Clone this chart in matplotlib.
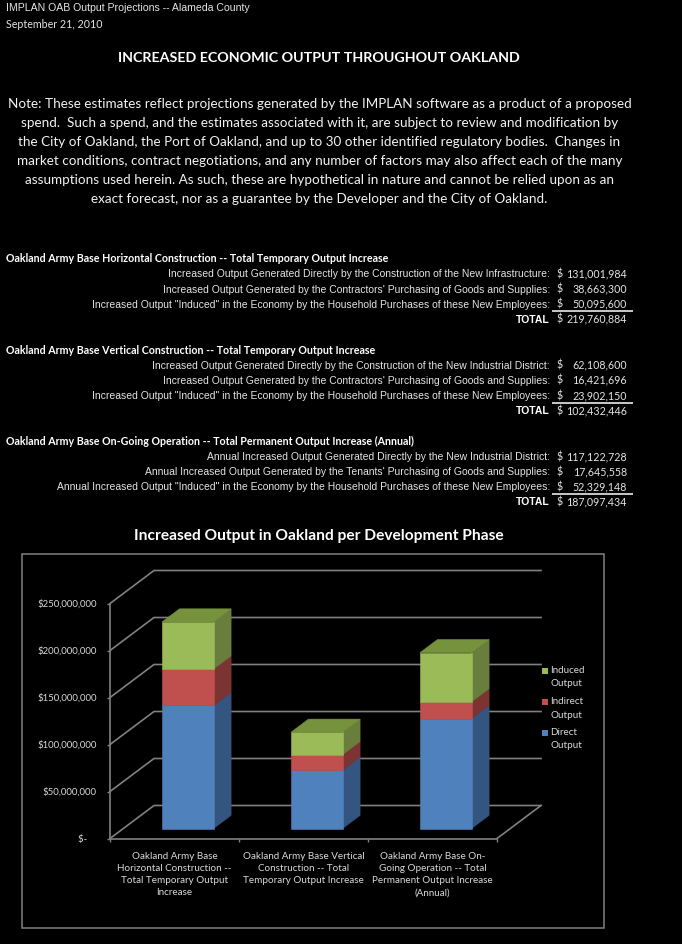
import matplotlib
matplotlib.use("Agg")
import matplotlib.pyplot as plt
from matplotlib.patches import Rectangle
from matplotlib.ticker import FuncFormatter, FixedLocator

W, H = 682, 944
SANS = "Lato"
ARIAL = "Liberation Sans"

header_line = "IMPLAN OAB Output Projections -- Alameda County"
date_line = "September 21, 2010"
page_title = "INCREASED ECONOMIC OUTPUT THROUGHOUT OAKLAND"
note_lines = [
    "Note: These estimates reflect projections generated by the IMPLAN software as a product of a proposed",
    "spend.  Such a spend, and the estimates associated with it, are subject to review and modification by",
    "the City of Oakland, the Port of Oakland, and up to 30 other identified regulatory bodies.  Changes in",
    "market conditions, contract negotiations, and any number of factors may also affect each of the many",
    "assumptions used herein. As such, these are hypothetical in nature and cannot be relied upon as an",
    "exact forecast, nor as a guarantee by the Developer and the City of Oakland.",
]
section_titles = [
    "Oakland Army Base Horizontal Construction -- Total Temporary Output Increase",
    "Oakland Army Base Vertical Construction -- Total Temporary Output Increase",
    "Oakland Army Base On-Going Operation -- Total Permanent Output Increase (Annual)",
]
section_rows = [
    ["Increased Output Generated Directly by the Construction of the New Infrastructure:",
     "Increased Output Generated by the Contractors' Purchasing of Goods and Supplies:",
     "Increased Output \"Induced\" in the Economy by the Household Purchases of these New Employees:"],
    ["Increased Output Generated Directly by the Construction of the New Industrial District:",
     "Increased Output Generated by the Contractors' Purchasing of Goods and Supplies:",
     "Increased Output \"Induced\" in the Economy by the Household Purchases of these New Employees:"],
    ["Annual Increased Output Generated Directly by the New Industrial District:",
     "Annual Increased Output Generated by the Tenants' Purchasing of Goods and Supplies:",
     "Annual Increased Output \"Induced\" in the Economy by the Household Purchases of these New Employees:"],
]
chart_title = "Increased Output in Oakland per Development Phase"
categories = [
    "Oakland Army Base\nHorizontal Construction --\nTotal Temporary Output\nIncrease",
    "Oakland Army Base Vertical\nConstruction -- Total\nTemporary Output Increase",
    "Oakland Army Base On-\nGoing Operation -- Total\nPermanent Output Increase\n(Annual)",
]
direct_output = [131001984, 62108600, 117122728]
indirect_output = [38663300, 16421696, 17645558]
induced_output = [50095600, 23902150, 52329148]
totals = [219760884, 102432446, 187097434]
series_names = ["Direct\nOutput", "Indirect\nOutput", "Induced\nOutput"]
y_ticks = [0, 50000000, 100000000, 150000000, 200000000, 250000000]

BLUE = ("#4F81BD", "#33557F")
RED = ("#C0504D", "#7C3432")
GREEN = ("#9BBB59", "#697E3C", "#76923C")
GRID = "#808080"
TXT = "#e4e4e4"

fig = plt.figure(figsize=(W / 100, H / 100), dpi=100, facecolor="black")
page = fig.add_axes([0, 0, 1, 1])
page.set_xlim(0, W)
page.set_ylim(H, 0)
page.axis("off")
renderer = fig.canvas.get_renderer()


def fit(text, family, weight, width):
    t = page.text(0, 0, text, family=family, weight=weight, fontsize=10)
    w = t.get_window_extent(renderer).width
    t.remove()
    return 10 * width / w


s_header = fit(header_line, ARIAL, "normal", 243)
s_date = fit(date_line, SANS, "normal", 95.5)
s_title = fit(page_title, SANS, "bold", 403)
s_note = fit(note_lines[0], SANS, "normal", 623)
s_section = fit(section_titles[0], SANS, "bold", 384)
s_row = fit(section_rows[0][2], ARIAL, "normal", 459)
s_value = fit("131,001,984", SANS, "normal", 60)
s_ctitle = fit(chart_title, SANS, "bold", 370)
s_tick = fit("$250,000,000", SANS, "normal", 60)
s_cat = fit("Horizontal Construction --", SANS, "normal", 115)
s_leg = fit("Induced", SANS, "normal", 35)

page.text(6, 8, header_line, family=ARIAL, fontsize=s_header, color=TXT, va="center")
page.text(6, 24, date_line, family=SANS, fontsize=s_date, color=TXT, va="center")
page.text(318.5, 57.5, page_title, family=SANS, weight="bold", fontsize=s_title, color="white",
          ha="center", va="center")
note_y = [104, 123, 142, 161, 180, 199]
for y, line in zip(note_y, note_lines):
    page.text(319.5, y, line, family=SANS, fontsize=s_note, color="#f2f2f2", ha="center", va="center")

sec_y = [[258.5, 274, 289.5, 304.5, 319.5],
         [350, 365.5, 380.5, 396, 411],
         [441.5, 457, 472, 487, 502]]
rule_y = [311, 402.7, 494]
BASE = 3.2
for k in range(3):
    ys = sec_y[k]
    page.text(6, ys[0], section_titles[k], family=SANS, weight="bold", fontsize=s_section,
              color="white", va="center")
    vals = [direct_output[k], indirect_output[k], induced_output[k]]
    for y, label, v in zip(ys[1:4], section_rows[k], vals):
        page.text(550, y + BASE, label, family=ARIAL, fontsize=s_row, color=TXT, ha="right", va="baseline")
        page.text(560, y + BASE, "$", family=SANS, fontsize=s_value, color=TXT, ha="center", va="baseline")
        page.text(627, y + BASE, f"{v:,}", family=SANS, fontsize=s_value, color=TXT, ha="right", va="baseline")
    page.text(550, ys[4] + BASE, "TOTAL", family=ARIAL, weight="bold", fontsize=s_row, color="white",
              ha="right", va="baseline")
    page.text(560, ys[4] + BASE, "$", family=SANS, fontsize=s_value, color=TXT, ha="center", va="baseline")
    page.text(627, ys[4] + BASE, f"{totals[k]:,}", family=SANS, fontsize=s_value, color=TXT, ha="right", va="baseline")
    page.plot([552, 633], [rule_y[k]] * 2, color="white", lw=1.1, solid_capstyle="butt")

page.text(319, 536, chart_title, family=SANS, weight="bold", fontsize=s_ctitle, color="white",
          ha="center", va="center")
page.add_patch(Rectangle((22, 554), 581.5, 374, fill=False, ec=GRID, lw=1.1))

# ---- pseudo-3D column chart on real data axes ----
AX_L, AX_R, AX_T, AX_B = 110, 497, 603.5, 838.5
ax = fig.add_axes([AX_L / W, 1 - AX_B / H, (AX_R - AX_L) / W, (AX_B - AX_T) / H])
ax.patch.set_alpha(0)
ax.set_xlim(-0.5, 2.5)
ax.set_ylim(0, 250000000)

DX = 44 * 3 / (AX_R - AX_L)               # depth shift in category units
DY = 33 * 250000000 / (AX_B - AX_T)       # depth shift in value units


def proj(x, v, d):
    return x + d * DX, v + d * DY


x_left, x_right = -0.5, 2.5
for v in y_ticks:
    a = proj(x_left, v, 0)
    b = proj(x_left, v, 1)
    c = proj(x_right, v, 1)
    ax.plot([a[0], b[0], c[0]], [a[1], b[1], c[1]], color=GRID, lw=1.2, clip_on=False, zorder=1,
            solid_joinstyle="miter")
a, b = proj(x_right, 0, 0), proj(x_right, 0, 1)
ax.plot([a[0], b[0]], [a[1], b[1]], color=GRID, lw=1.2, clip_on=False, zorder=1)

BAR_W = 0.4
D0, D1 = 0.3, 0.7


def poly(points, color, z):
    ax.fill([p[0] for p in points], [p[1] for p in points], color=color, lw=0.4, clip_on=False, zorder=z)


for i in range(3):
    x0, x1 = i - BAR_W / 2, i + BAR_W / 2
    bottom = 0
    stack = [(direct_output[i], BLUE), (indirect_output[i], RED), (induced_output[i], GREEN)]
    z = 3 + i
    for val, col in stack:
        top = bottom + val
        poly([proj(x1, bottom, D0), proj(x1, bottom, D1), proj(x1, top, D1), proj(x1, top, D0)], col[1], z)
        poly([proj(x0, bottom, D0), proj(x1, bottom, D0), proj(x1, top, D0), proj(x0, top, D0)], col[0], z)
        bottom = top
    poly([proj(x0, bottom, D0), proj(x1, bottom, D0), proj(x1, bottom, D1), proj(x0, bottom, D1)], GREEN[2], z)

for sp in ("top", "right"):
    ax.spines[sp].set_visible(False)
for sp in ("left", "bottom"):
    ax.spines[sp].set_color(GRID)
    ax.spines[sp].set_linewidth(1.2)

ax.yaxis.set_major_locator(FixedLocator(y_ticks))
ax.yaxis.set_major_formatter(FuncFormatter(lambda v, _: "$-    " if v == 0 else f"${v:,.0f}"))
ax.tick_params(axis="y", colors=GRID, length=2.5, width=1.0, pad=7, labelcolor="#d9d9d9",
               labelsize=s_tick)
ax.set_xticks([0, 1, 2])
ax.set_xticklabels(categories, family=SANS, fontsize=s_cat, color="#d9d9d9", linespacing=1.45)
ax.tick_params(axis="x", which="major", length=0, pad=9.5)
ax.set_xticks([-0.5, 0.5, 1.5, 2.5], minor=True)
ax.tick_params(axis="x", which="minor", length=2.5, width=1.0, color=GRID)
for lab in ax.get_yticklabels():
    lab.set_family(SANS)

legend_y = {0: 732.7, 1: 702, 2: 670.7}
legend_cols = [BLUE[0], RED[0], GREEN[0]]
for k, name in enumerate(series_names):
    y = legend_y[k]
    page.add_patch(Rectangle((542, y - 3), 6, 6, fc=legend_cols[k], ec="none"))
    first, second = name.split("\n")
    page.text(550.5, y, first, family=SANS, fontsize=s_leg, color="#d9d9d9", va="center")
    page.text(550.5, y + 13, second, family=SANS, fontsize=s_leg, color="#d9d9d9", va="center")

fig.savefig("out.png", dpi=100, facecolor="black")
